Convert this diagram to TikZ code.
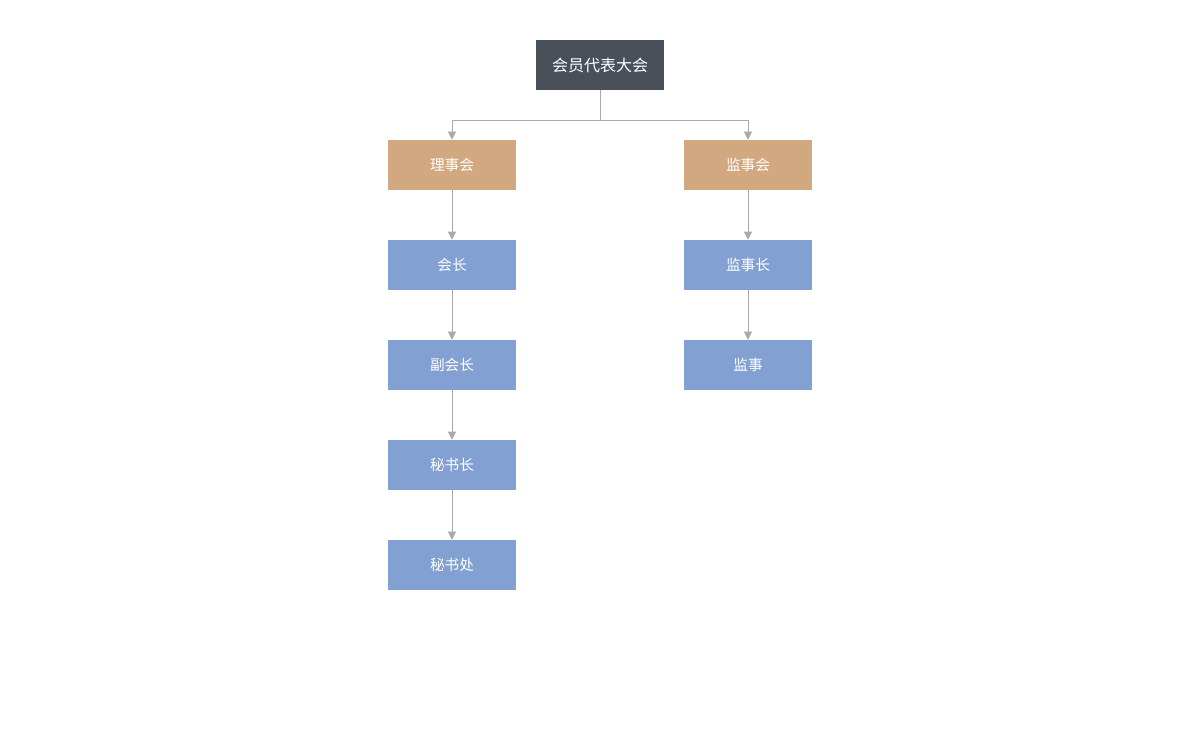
\documentclass[tikz,border=0pt]{standalone}
\usepackage{fontspec}
\newfontfamily\cjk{Noto Sans CJK SC}
\usetikzlibrary{arrows.meta}
\definecolor{topc}{HTML}{4A505A}
\definecolor{tanc}{HTML}{D2A881}
\definecolor{bluec}{HTML}{82A1D2}
\definecolor{linec}{HTML}{AAAAAA}
\begin{document}
\begin{tikzpicture}[x=0.75pt,y=-0.75pt,
  box/.style={minimum width=96pt,minimum height=37.5pt,inner sep=0pt,text=white,font=\cjk\fontsize{11}{13}\selectfont},
  topbox/.style={box,fill=topc,font=\cjk\fontsize{12}{14}\selectfont},
  tanbox/.style={box,fill=tanc},
  bluebox/.style={box,fill=bluec},
  conn/.style={draw=linec,line width=0.75pt,-{Triangle[width=6pt,length=6pt]}}]
\useasboundingbox (0,0) rectangle (1200,750);
\node[topbox] (root) at (600,65) {会员代表大会};
\node[tanbox] (lsh) at (452,165) {理事会};
\node[tanbox] (jsh) at (748,165) {监事会};
\node[bluebox] (hz) at (452,265) {会长};
\node[bluebox] (fhz) at (452,365) {副会长};
\node[bluebox] (msz) at (452,465) {秘书长};
\node[bluebox] (msc) at (452,565) {秘书处};
\node[bluebox] (jsz) at (748,265) {监事长};
\node[bluebox] (js) at (748,365) {监事};
\coordinate (mid) at (600,120);
\draw[conn] (root.south) -- (mid) -| (lsh.north);
\draw[conn] (mid) -| (jsh.north);
\draw[conn] (lsh) -- (hz);
\draw[conn] (hz) -- (fhz);
\draw[conn] (fhz) -- (msz);
\draw[conn] (msz) -- (msc);
\draw[conn] (jsh) -- (jsz);
\draw[conn] (jsz) -- (js);
\end{tikzpicture}
\end{document}
